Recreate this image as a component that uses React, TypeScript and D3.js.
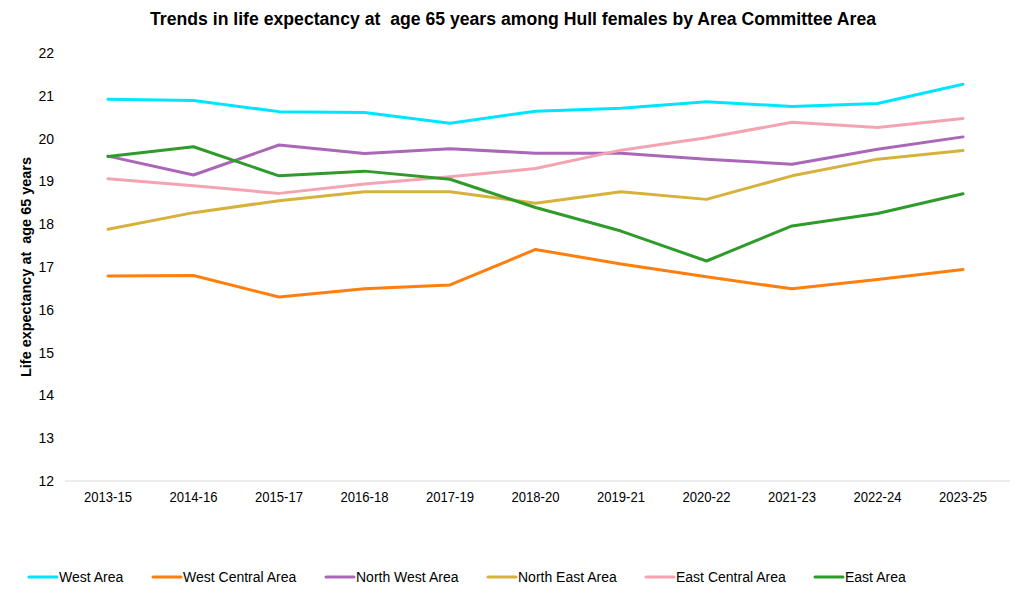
import { useMemo } from 'react'
import * as d3 from 'd3'

const periods = [
  '2013-15', '2014-16', '2015-17', '2016-18', '2017-19', '2018-20',
  '2019-21', '2020-22', '2021-23', '2022-24', '2023-25',
]

const westArea = [20.92, 20.89, 20.63, 20.61, 20.36, 20.64, 20.71, 20.86, 20.75, 20.82, 21.27]
const westCentralArea = [16.79, 16.8, 16.3, 16.49, 16.58, 17.41, 17.07, 16.77, 16.49, 16.71, 16.94]
const northWestArea = [19.59, 19.15, 19.85, 19.65, 19.76, 19.66, 19.66, 19.52, 19.4, 19.75, 20.04]
const northEastArea = [17.88, 18.27, 18.55, 18.76, 18.76, 18.49, 18.76, 18.58, 19.13, 19.52, 19.72]
const eastCentralArea = [19.06, 18.9, 18.72, 18.94, 19.11, 19.3, 19.73, 20.02, 20.38, 20.26, 20.47]
const eastArea = [19.58, 19.81, 19.13, 19.24, 19.05, 18.39, 17.84, 17.14, 17.96, 18.25, 18.71]

const seriesNames = [
  'West Area', 'West Central Area', 'North West Area',
  'North East Area', 'East Central Area', 'East Area',
]
const seriesValues = [westArea, westCentralArea, northWestArea, northEastArea, eastCentralArea, eastArea]
const seriesColors = ['#00e5ff', '#ff7f0e', '#aa67b8', '#d6b23c', '#f4a4b0', '#2e9b2a']

const yDomain: [number, number] = [12, 22]

const title = 'Trends in life expectancy at\u00a0 age 65 years among Hull females by Area Committee Area'
const yLabel = 'Life expectancy at\u00a0 age 65 years'

const legendX = [28, 152, 325, 487, 645, 814]

const App = () => {
  const width = 1020
  const height = 608
  const font = '"Liberation Sans", Arial, sans-serif'

  const x = useMemo(
    () => d3.scalePoint<string>().domain(periods).range([108, 963]),
    []
  )
  const y = useMemo(() => d3.scaleLinear().domain(yDomain).range([481, 53]), [])

  const line = d3
    .line<number>()
    .x((_, i) => x(periods[i])!)
    .y((d) => y(d))

  return (
    <svg
      width={width}
      height={height}
      style={{ position: 'absolute', left: 0, top: 0, display: 'block', background: '#fff' }}
      fontFamily={font}
    >
      <text
        x={513}
        y={25}
        textAnchor="middle"
        fontSize={18}
        fontWeight="bold"
        textLength={726}
        lengthAdjust="spacingAndGlyphs"
      >
        {title}
      </text>

      <text
        transform="translate(31,267) rotate(-90)"
        textAnchor="middle"
        fontSize={14}
        fontWeight="bold"
        textLength={220}
        lengthAdjust="spacingAndGlyphs"
      >
        {yLabel}
      </text>

      {y.ticks(10).map((t) => (
        <text key={t} x={54} y={y(t) + 5} textAnchor="end" fontSize={14} fill="#000">
          {t}
        </text>
      ))}

      <line x1={65} x2={1010} y1={y(12)} y2={y(12)} stroke="#d9d9d9" strokeWidth={1} />

      {periods.map((p) => (
        <text key={p} x={x(p)} y={502} textAnchor="middle" fontSize={14} fill="#000"
          textLength={48} lengthAdjust="spacingAndGlyphs">
          {p}
        </text>
      ))}

      {seriesValues.map((vals, i) => (
        <path
          key={seriesNames[i]}
          d={line(vals) ?? ''}
          fill="none"
          stroke={seriesColors[i]}
          strokeWidth={3}
          strokeLinejoin="round"
          strokeLinecap="round"
        />
      ))}

      {seriesNames.map((name, i) => (
        <g key={name} transform={`translate(${legendX[i]},577)`}>
          <line x1={1} x2={29} y1={0} y2={0} stroke={seriesColors[i]} strokeWidth={3} strokeLinecap="round" />
          <text x={31} y={5} fontSize={14} fill="#000">
            {name}
          </text>
        </g>
      ))}
    </svg>
  )
}

export default App
